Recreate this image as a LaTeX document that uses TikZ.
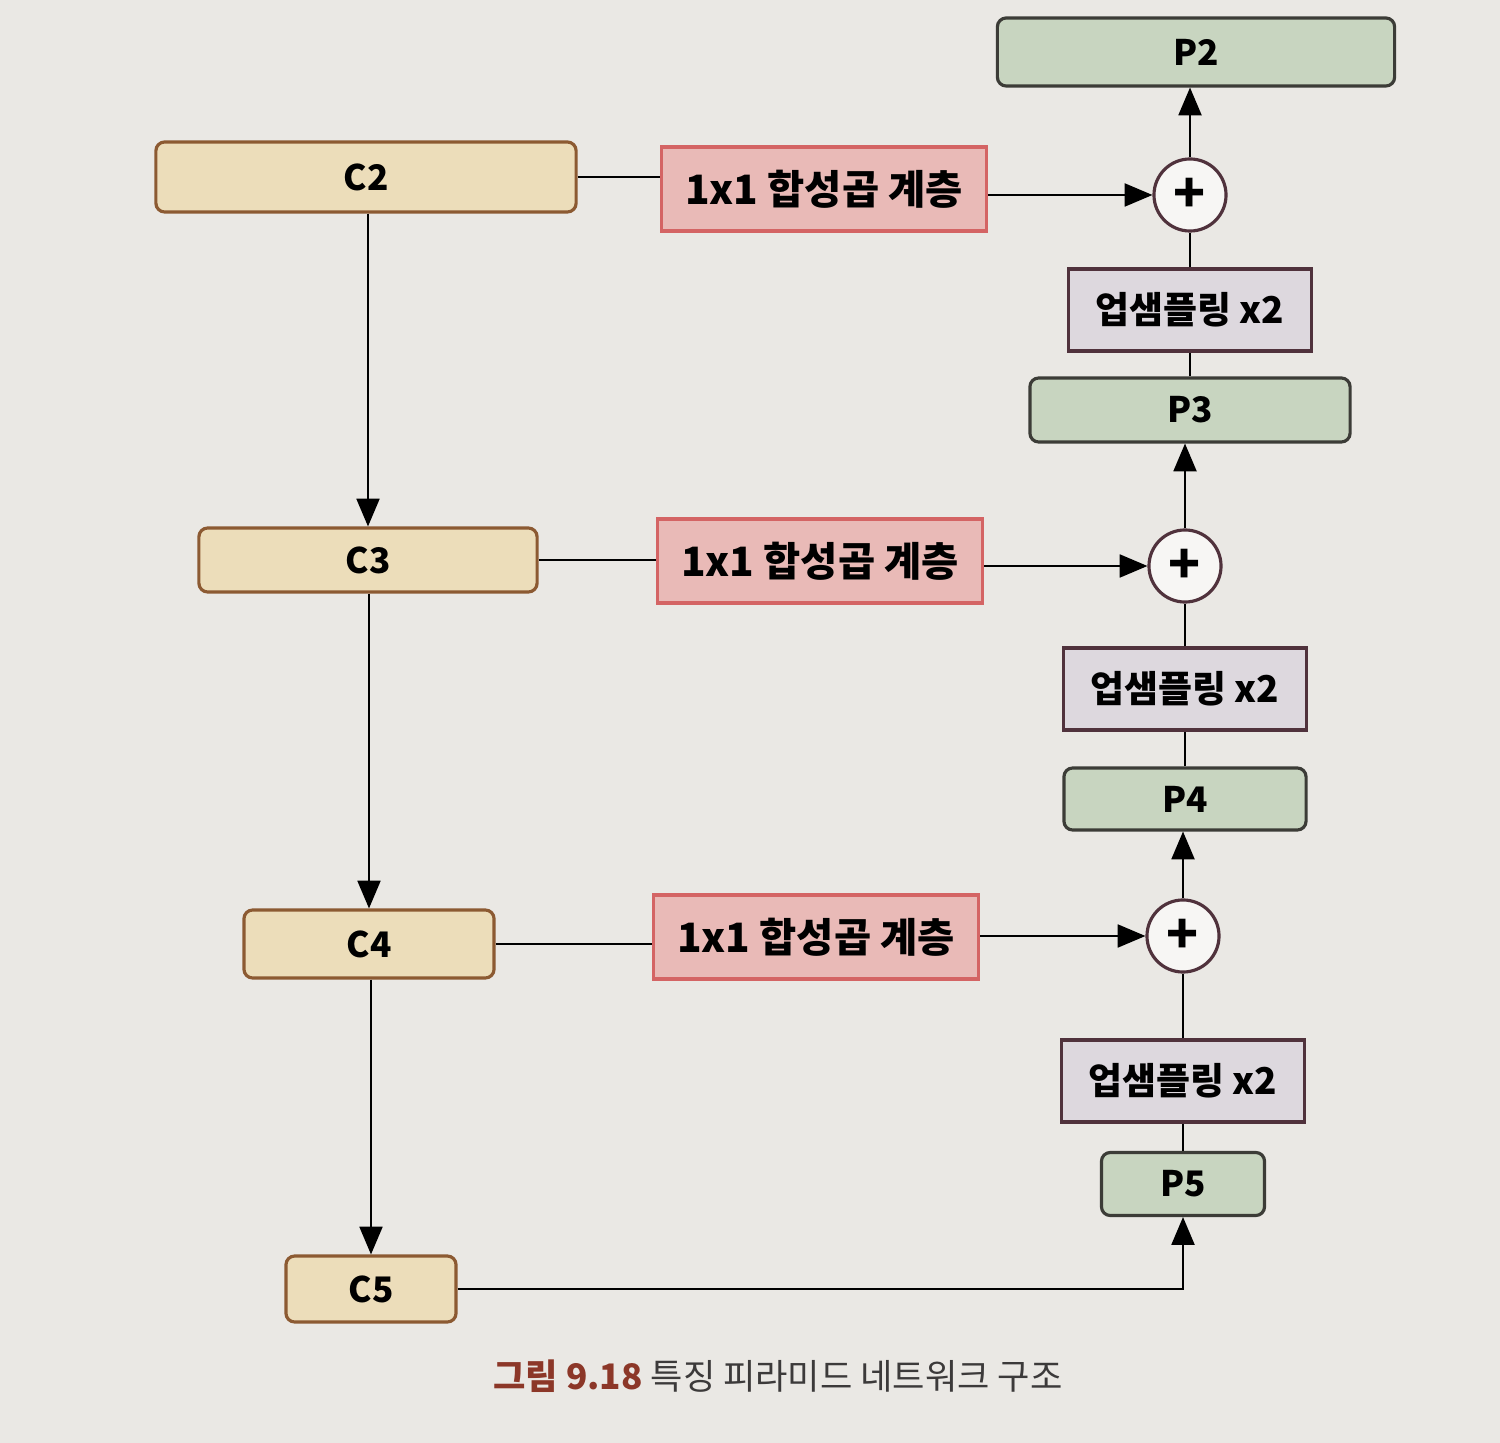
\documentclass[tikz,border=0pt]{standalone}
\usepackage{fontspec}
\setmainfont{Noto Sans CJK KR}
\usetikzlibrary{arrows}
\usetikzlibrary{shapes}

\definecolor{paper}{RGB}{234,232,228}
\definecolor{cfill}{RGB}{236,221,186}
\definecolor{cline}{RGB}{140,90,50}
\definecolor{lfill}{RGB}{233,186,183}
\definecolor{lline}{RGB}{212,100,100}
\definecolor{ufill}{RGB}{221,216,222}
\definecolor{uline}{RGB}{80,50,60}
\definecolor{pfill}{RGB}{200,213,192}
\definecolor{pline}{RGB}{60,60,55}
\definecolor{capred}{RGB}{140,55,40}
\definecolor{capgray}{RGB}{60,58,58}

\begin{document}
\begin{tikzpicture}[x = 0.01cm, y = -0.01cm]
\tikzstyle{CStyle}=[shape = rectangle, rounded corners = 2.5pt,
                    draw = cline, fill = cfill, line width = 0.9pt,
                    font = \bfseries\fontsize{10}{12}\selectfont]
\tikzstyle{PStyle}=[shape = rectangle, rounded corners = 2.5pt,
                    draw = pline, fill = pfill, line width = 0.9pt,
                    font = \bfseries\fontsize{10}{12}\selectfont]
\tikzstyle{LStyle}=[shape = rectangle, minimum width = 3.25cm,
                    minimum height = 0.84cm,
                    draw = lline, fill = lfill, line width = 0.9pt,
                    font = \bfseries\fontsize{11.5}{14}\selectfont]
\tikzstyle{UStyle}=[shape = rectangle, minimum width = 2.43cm,
                    minimum height = 0.82cm,
                    draw = uline, fill = ufill, line width = 0.9pt,
                    font = \bfseries\fontsize{10.5}{13}\selectfont]
\tikzstyle{SumStyle}=[shape = circle, minimum size = 0.72cm, inner sep = 0pt,
                      draw = uline, fill = white!60!paper, line width = 0.9pt,
                      font = \bfseries\fontsize{15}{15}\selectfont]
\tikzstyle{EdgeStyle}=[line width = 0.8pt, black]

\useasboundingbox[fill = paper] (0,0) rectangle (1500,1443);

% bottom-up path
\node[CStyle, minimum width = 4.2cm, minimum height = 0.7cm] (c2) at (366, 177) {C2};
\node[CStyle, minimum width = 3.38cm, minimum height = 0.64cm] (c3) at (368, 560) {C3};
\node[CStyle, minimum width = 2.5cm, minimum height = 0.68cm] (c4) at (369, 944) {C4};
\node[CStyle, minimum width = 1.7cm, minimum height = 0.66cm] (c5) at (371, 1289) {C5};

% lateral 1x1 layers
\node[LStyle] (l2) at (824, 189) {1x1 합성곱 계층};
\node[LStyle] (l3) at (820, 561) {1x1 합성곱 계층};
\node[LStyle] (l4) at (816, 937) {1x1 합성곱 계층};

% top-down path
\node[PStyle, minimum width = 3.97cm, minimum height = 0.68cm] (p2) at (1196, 52) {P2};
\node[SumStyle] (s2) at (1190, 195) {+};
\node[UStyle] (u3) at (1190, 310) {업샘플링 x2};
\node[PStyle, minimum width = 3.2cm, minimum height = 0.64cm] (p3) at (1190, 410) {P3};
\node[SumStyle] (s3) at (1185, 566) {+};
\node[UStyle] (u4) at (1185, 689) {업샘플링 x2};
\node[PStyle, minimum width = 2.42cm, minimum height = 0.62cm] (p4) at (1185, 799) {P4};
\node[SumStyle] (s4) at (1183, 936) {+};
\node[UStyle] (u5) at (1183, 1081) {업샘플링 x2};
\node[PStyle, minimum width = 1.63cm, minimum height = 0.63cm] (p5) at (1183, 1184) {P5};

\draw[EdgeStyle, -triangle 45] (c2.south -| c3.north) -- (c3.north);
\draw[EdgeStyle, -triangle 45] (c3.south -| c4.north) -- (c4.north);
\draw[EdgeStyle, -triangle 45] (c4.south -| c5.north) -- (c5.north);

\draw[EdgeStyle] (c2.east) -- (c2.east -| l2.west);
\draw[EdgeStyle] (c3.east) -- (c3.east -| l3.west);
\draw[EdgeStyle] (c4.east) -- (c4.east -| l4.west);
\draw[EdgeStyle, -triangle 45] (l2.east |- s2) -- (s2.west);
\draw[EdgeStyle, -triangle 45] (l3.east |- s3) -- (s3.west);
\draw[EdgeStyle, -triangle 45] (l4.east |- s4) -- (s4.west);

\draw[EdgeStyle, -triangle 45] (s2.north) -- (s2.north |- p2.south);
\draw[EdgeStyle] (u3.north) -- (s2.south);
\draw[EdgeStyle] (p3.north) -- (u3.south);
\draw[EdgeStyle, -triangle 45] (s3.north) -- (s3.north |- p3.south);
\draw[EdgeStyle] (u4.north) -- (s3.south);
\draw[EdgeStyle] (p4.north) -- (u4.south);
\draw[EdgeStyle, -triangle 45] (s4.north) -- (s4.north |- p4.south);
\draw[EdgeStyle] (u5.north) -- (s4.south);
\draw[EdgeStyle] (p5.north) -- (u5.south);
\draw[EdgeStyle, -triangle 45] (c5.east) -| (p5.south);

% caption
\node[font = \fontsize{10}{12}\selectfont, text = capgray] (cap) at (778, 1376)
  {\textcolor{capred}{\bfseries 그림 9.18} 특징 피라미드 네트워크 구조};
\end{tikzpicture}
\end{document}
